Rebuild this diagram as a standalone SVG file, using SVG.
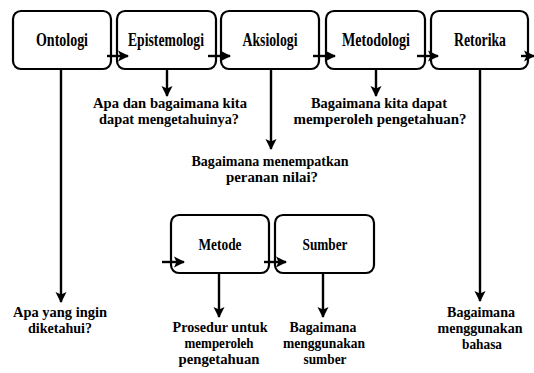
<svg xmlns="http://www.w3.org/2000/svg" width="534" height="373" viewBox="0 0 534 373">
<defs>
<style>
.box{fill:#fff;stroke:#000;stroke-width:2.2}
.t{font-family:"Liberation Serif","Times New Roman",serif;font-weight:bold;fill:#000;text-anchor:middle}
.lbl{font-size:19px}
.lbl2{font-size:17px}
.ans{font-size:15.5px}
.c{stroke:#000;stroke-width:2.4;fill:none;marker-end:url(#ah)}
</style>
<marker id="ah" markerUnits="userSpaceOnUse" markerWidth="12" markerHeight="12" refX="10" refY="6" orient="auto">
<path d="M0,0.5 L11,6 L0,11.5 L2.5,6 z" fill="#000"/>
</marker>
</defs>
<rect width="534" height="373" fill="#fff"/>
<g id="ontologi"><rect class="box" x="13" y="11" width="98" height="58" rx="8"/><text class="t lbl" x="62" y="46" textLength="52" lengthAdjust="spacingAndGlyphs">Ontologi</text></g>
<g id="epistemologi"><rect class="box" x="117" y="11" width="99" height="58" rx="8"/><text class="t lbl" x="166" y="46" textLength="76" lengthAdjust="spacingAndGlyphs">Epistemologi</text></g>
<g id="aksiologi"><rect class="box" x="221" y="11" width="98" height="58" rx="8"/><text class="t lbl" x="270" y="46" textLength="55" lengthAdjust="spacingAndGlyphs">Aksiologi</text></g>
<g id="metodologi"><rect class="box" x="326" y="11" width="99" height="58" rx="8"/><text class="t lbl" x="376" y="46" textLength="68" lengthAdjust="spacingAndGlyphs">Metodologi</text></g>
<g id="retorika"><rect class="box" x="431" y="11" width="97" height="58" rx="8"/><text class="t lbl" x="480" y="46" textLength="52" lengthAdjust="spacingAndGlyphs">Retorika</text></g>
<g id="metode"><rect class="box" x="171" y="215" width="98" height="58" rx="8"/><text class="t lbl2" x="220" y="250" textLength="43" lengthAdjust="spacingAndGlyphs">Metode</text></g>
<g id="sumber"><rect class="box" x="275" y="215" width="99" height="58" rx="8"/><text class="t lbl2" x="325" y="250" textLength="45" lengthAdjust="spacingAndGlyphs">Sumber</text></g>
<g id="q-ontologi"><text class="t ans" x="60" y="317" textLength="94" lengthAdjust="spacingAndGlyphs">Apa yang ingin</text><text class="t ans" x="60" y="333" textLength="64" lengthAdjust="spacingAndGlyphs">diketahui?</text></g>
<g id="q-epistemologi"><text class="t ans" x="170" y="108" textLength="154" lengthAdjust="spacingAndGlyphs">Apa dan bagaimana kita</text><text class="t ans" x="169" y="124" textLength="140" lengthAdjust="spacingAndGlyphs">dapat mengetahuinya?</text></g>
<g id="q-aksiologi"><text class="t ans" x="270" y="166" textLength="157" lengthAdjust="spacingAndGlyphs">Bagaimana menempatkan</text><text class="t ans" x="272" y="182" textLength="92" lengthAdjust="spacingAndGlyphs">peranan nilai?</text></g>
<g id="q-metodologi"><text class="t ans" x="379" y="108" textLength="136" lengthAdjust="spacingAndGlyphs">Bagaimana kita dapat</text><text class="t ans" x="380" y="124" textLength="173" lengthAdjust="spacingAndGlyphs">memperoleh pengetahuan?</text></g>
<g id="q-retorika"><text class="t ans" x="481" y="317" textLength="68" lengthAdjust="spacingAndGlyphs">Bagaimana</text><text class="t ans" x="480" y="333" textLength="85" lengthAdjust="spacingAndGlyphs">menggunakan</text><text class="t ans" x="482" y="349" textLength="40" lengthAdjust="spacingAndGlyphs">bahasa</text></g>
<g id="q-metode"><text class="t ans" x="220" y="332" textLength="95" lengthAdjust="spacingAndGlyphs">Prosedur untuk</text><text class="t ans" x="219" y="348" textLength="69" lengthAdjust="spacingAndGlyphs">memperoleh</text><text class="t ans" x="219" y="364" textLength="81" lengthAdjust="spacingAndGlyphs">pengetahuan</text></g>
<g id="q-sumber"><text class="t ans" x="323" y="332" textLength="67" lengthAdjust="spacingAndGlyphs">Bagaimana</text><text class="t ans" x="324" y="348" textLength="82" lengthAdjust="spacingAndGlyphs">menggunakan</text><text class="t ans" x="325" y="364" textLength="43" lengthAdjust="spacingAndGlyphs">sumber</text></g>
<g id="connectors">
<line class="c" x1="107" y1="56" x2="128" y2="56"/>
<line class="c" x1="208" y1="56" x2="230" y2="56"/>
<line class="c" x1="313" y1="56" x2="335" y2="56"/>
<line class="c" x1="417" y1="56" x2="438" y2="56"/>
<line class="c" x1="521" y1="56" x2="534" y2="56"/>
<line class="c" x1="162" y1="262" x2="184" y2="262"/>
<line class="c" x1="264" y1="262" x2="286" y2="262"/>
<line class="c" x1="61" y1="69" x2="61" y2="302"/>
<line class="c" x1="167" y1="69" x2="167" y2="96"/>
<line class="c" x1="271" y1="69" x2="271" y2="149"/>
<line class="c" x1="376" y1="69" x2="376" y2="96"/>
<line class="c" x1="480" y1="69" x2="480" y2="301"/>
<line class="c" x1="219" y1="273" x2="219" y2="317"/>
<line class="c" x1="323" y1="273" x2="323" y2="317"/>
</g>
</svg>
